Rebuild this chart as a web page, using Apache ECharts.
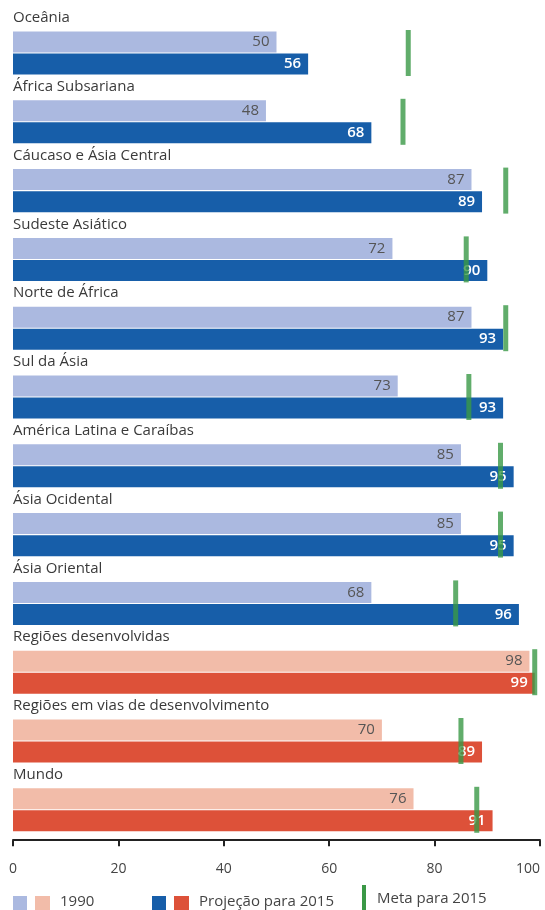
<!DOCTYPE html>
<html>
<head>
<meta charset="utf-8">
<script src="https://cdn.jsdelivr.net/npm/echarts@6/dist/echarts.min.js"></script>
<style>
  html, body { margin: 0; padding: 0; background: #fff; }
  #chart { width: 545px; height: 910px; }
</style>
</head>
<body>
<div id="chart"></div>
<script>
const regions = ['Oceânia', 'África Subsariana', 'Cáucaso e Ásia Central', 'Sudeste Asiático',
  'Norte de África', 'Sul da Ásia', 'América Latina e Caraíbas', 'Ásia Ocidental', 'Ásia Oriental',
  'Regiões desenvolvidas', 'Regiões em vias de desenvolvimento', 'Mundo']
const v1990 = [50, 48, 87, 72, 87, 73, 85, 85, 68, 98, 70, 76]
const v2015 = [56, 68, 89, 90, 93, 93, 95, 95, 96, 99, 89, 91]
const meta = [75, 74, 93.5, 86, 93.5, 86.5, 92.5, 92.5, 84, 99, 85, 88]
// last three rows are aggregates, drawn in red tones
const isAggregate = [0, 0, 0, 0, 0, 0, 0, 0, 0, 1, 1, 1]
const xTicks = [0, 20, 40, 60, 80, 100]

const font = '"Open Sans", "Noto Sans", sans-serif'
const col = {
  light: '#abb9e0', dark: '#175ea9',
  lightRed: '#f2bca9', red: '#dd5139',
  green: '#3a9846'
}

var myChart = echarts.init(document.getElementById('chart'))

var option = {
  animation: false,
  grid: { left: 13, right: 5, top: 18.6, height: 825.6, outerBoundsMode: 'none', containLabel: false },
  xAxis: {
    type: 'value', min: 0, max: 100, interval: 20,
    offset: -4,
    splitLine: { show: false },
    axisLine: { show: true, lineStyle: { color: '#222', width: 2 } },
    axisTick: { show: true, length: 6, lineStyle: { color: '#222', width: 2 } },
    axisLabel: {
      color: '#444', fontSize: 14, fontFamily: font, margin: 22, alignMaxLabel: 'right',
      formatter: v => xTicks.indexOf(v) >= 0 ? String(v) : ''
    }
  },
  yAxis: {
    type: 'category', data: regions, inverse: true, show: false
  },
  series: [
    {
      name: '1990', type: 'bar', barWidth: 21, barGap: '5%',
      data: v1990.map((v, i) => ({ value: v, itemStyle: { color: isAggregate[i] ? col.lightRed : col.light } })),
      label: {
        show: true, position: 'insideRight', color: '#555', fontSize: 15,
        fontFamily: font, distance: 7
      }
    },
    {
      name: 'Projeção para 2015', type: 'bar', barWidth: 21,
      data: v2015.map((v, i) => ({ value: v, itemStyle: { color: isAggregate[i] ? col.red : col.dark } })),
      label: {
        show: true, position: 'insideRight', color: '#fff', fontSize: 15,
        fontFamily: font, fontWeight: 600, distance: 7
      }
    },
    {
      name: 'Meta para 2015', type: 'scatter', symbol: 'rect', symbolSize: [5, 46],
      itemStyle: { color: col.green }, z: 3,
      data: meta.map((v, i) => [v, i])
    },
    {
      type: 'custom', silent: true,
      data: regions.map((r, i) => [0, i]),
      renderItem: function (params, api) {
        var p = api.coord([0, api.value(1)])
        return {
          type: 'text',
          style: {
            x: p[0], y: p[1] - 35, text: regions[params.dataIndex],
            fill: '#3a3a3a', fontSize: 15, fontFamily: font,
            textAlign: 'left', textVerticalAlign: 'middle'
          }
        }
      }
    }
  ],
  graphic: [
    { type: 'rect', shape: { x: 13, y: 896, width: 14, height: 14 }, style: { fill: col.light } },
    { type: 'rect', shape: { x: 35, y: 896, width: 15, height: 14 }, style: { fill: col.lightRed } },
    { type: 'text', style: { x: 60, y: 902, text: '1990', fill: '#444', fontSize: 15, fontFamily: font, textVerticalAlign: 'middle' } },
    { type: 'rect', shape: { x: 152, y: 896, width: 14, height: 14 }, style: { fill: col.dark } },
    { type: 'rect', shape: { x: 174, y: 896, width: 15, height: 14 }, style: { fill: col.red } },
    { type: 'text', style: { x: 199, y: 902, text: 'Projeção para 2015', fill: '#444', fontSize: 15, fontFamily: font, textVerticalAlign: 'middle' } },
    { type: 'rect', shape: { x: 362, y: 885, width: 4, height: 25 }, style: { fill: col.green } },
    { type: 'text', style: { x: 377, y: 899, text: 'Meta para 2015', fill: '#444', fontSize: 15, fontFamily: font, textVerticalAlign: 'middle' } }
  ]
}
option && myChart.setOption(option)
</script>
</body>
</html>
